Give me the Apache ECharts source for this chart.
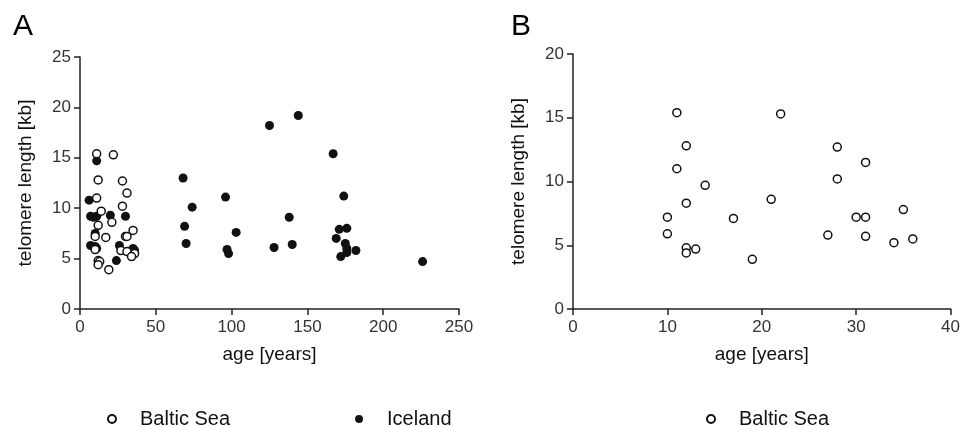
<!DOCTYPE html>
<html>
<head>
<meta charset="utf-8">
<script src="https://cdn.jsdelivr.net/npm/echarts@6/dist/echarts.min.js"></script>
<style>
  html, body { margin: 0; padding: 0; background: #fff; }
  #main { width: 963px; height: 427px; }
</style>
</head>
<body>
<div id="main"></div>
<script>
// Baltic Sea fish: age (years) and telomere length (kb) - same set in both panels
var balticAge = [11, 22, 12, 28, 31, 11, 28, 14, 21, 12, 35, 10, 17, 30, 31, 10, 27, 31, 36, 34, 12, 13, 12, 19]
var balticTL  = [15.4, 15.3, 12.8, 12.7, 11.5, 11.0, 10.2, 9.7, 8.6, 8.3, 7.8, 7.2, 7.1, 7.2, 7.2, 5.9, 5.8, 5.7, 5.5, 5.2, 4.8, 4.7, 4.4, 3.9]

// Iceland fish
var icelandAge = [6, 11, 7, 9, 11, 20, 30, 10, 7, 10, 11, 26, 24, 35, 36,
  68, 74, 69, 70, 96, 103, 97, 98, 125, 144, 128, 138, 140,
  167, 174, 171, 176, 169, 175, 176, 176, 172, 182, 226]
var icelandTL = [10.8, 14.7, 9.2, 9.1, 9.2, 9.3, 9.2, 7.5, 6.3, 6.2, 6.0, 6.3, 4.8, 6.0, 5.8,
  13.0, 10.1, 8.2, 6.5, 11.1, 7.6, 5.9, 5.5, 18.2, 19.2, 6.1, 9.1, 6.4,
  15.4, 11.2, 7.9, 8.0, 7.0, 6.5, 6.0, 5.6, 5.2, 5.8, 4.7]

var panelLabels = ['A', 'B']
var xTitle = 'age [years]'
var yTitle = 'telomere length [kb]'

function pairs(xs, ys) {
  var out = []
  for (var i = 0; i < xs.length; i++) out.push([xs[i], ys[i]])
  return out
}

var font = 'Arial, "Liberation Sans", sans-serif'

function xAx(grid, max, interval) {
  return {
    gridIndex: grid, type: 'value', min: 0, max: max, interval: interval,
    name: xTitle, nameLocation: 'middle', nameGap: 36,
    nameTextStyle: { fontFamily: font, fontSize: 19, color: '#111' },
    axisLine: { lineStyle: { color: '#222', width: 1.5 } },
    axisTick: { length: 6, lineStyle: { color: '#222', width: 1.5 } },
    axisLabel: { fontFamily: font, fontSize: 17, color: '#333', margin: 10 },
    splitLine: { show: false }
  }
}
function yAx(grid, max) {
  return {
    gridIndex: grid, type: 'value', min: 0, max: max, interval: 5,
    name: yTitle, nameLocation: 'middle', nameGap: 45,
    nameTextStyle: { fontFamily: font, fontSize: 19, color: '#111' },
    axisLine: { show: true, lineStyle: { color: '#222', width: 1.5 } },
    axisTick: { show: true, length: 6, lineStyle: { color: '#222', width: 1.5 } },
    axisLabel: { fontFamily: font, fontSize: 17, color: '#333', margin: 9 },
    splitLine: { show: false }
  }
}

var openStyle = { color: '#fff', borderColor: '#111', borderWidth: 1.5, opacity: 1 }
var filledStyle = { color: '#111', opacity: 1 }

var chart = echarts.init(document.getElementById('main'))
var option = {
  animation: false,
  backgroundColor: '#fff',
  title: [
    { text: panelLabels[0], left: 8, top: 7, textStyle: { fontFamily: font, fontSize: 30, fontWeight: 'normal', color: '#000' } },
    { text: panelLabels[1], left: 506, top: 7, textStyle: { fontFamily: font, fontSize: 30, fontWeight: 'normal', color: '#000' } }
  ],
  grid: [
    { left: 80, top: 57, width: 379, height: 252 },
    { left: 573, top: 54, width: 383, height: 255 }
  ],
  xAxis: [xAx(0, 250, 50), xAx(1, 40, 10)],
  yAxis: [yAx(0, 25), yAx(1, 20)],
  legend: [
    {
      data: ['Baltic Sea', 'Iceland'], left: 102, top: 404, itemGap: 125,
      itemWidth: 8, itemHeight: 8, icon: 'circle',
      textStyle: { fontFamily: font, fontSize: 20, color: '#111', padding: [0, 0, 0, 19] }
    },
    {
      data: ['Baltic Sea'], left: 701, top: 404,
      itemWidth: 8, itemHeight: 8, icon: 'circle',
      textStyle: { fontFamily: font, fontSize: 20, color: '#111', padding: [0, 0, 0, 19] }
    }
  ],
  series: [
    {
      name: 'Baltic Sea', type: 'scatter', xAxisIndex: 0, yAxisIndex: 0,
      symbol: 'circle', symbolSize: 8, itemStyle: openStyle,
      data: pairs(balticAge, balticTL), z: 3
    },
    {
      name: 'Iceland', type: 'scatter', xAxisIndex: 0, yAxisIndex: 0,
      symbol: 'circle', symbolSize: 9, itemStyle: filledStyle,
      data: pairs(icelandAge, icelandTL), z: 2
    },
    {
      name: 'Baltic Sea', type: 'scatter', xAxisIndex: 1, yAxisIndex: 1,
      symbol: 'circle', symbolSize: 8, itemStyle: openStyle,
      data: pairs(balticAge, balticTL)
    }
  ]
}
chart.setOption(option)
</script>
</body>
</html>
